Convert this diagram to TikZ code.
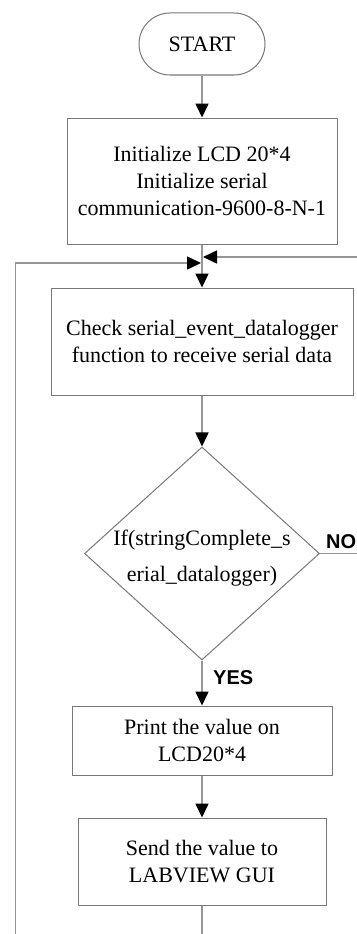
\documentclass[tikz,border=0pt]{standalone}
\usepackage{fontspec}
\setmainfont{Liberation Serif}
\newfontfamily\tagfont{Liberation Sans}
\usetikzlibrary{shapes.geometric,arrows.meta}
\definecolor{boxgray}{RGB}{120,120,120}
\definecolor{linegray}{RGB}{150,150,150}
\tikzset{
  process/.style={draw=boxgray, line width=1pt, align=center, inner sep=0pt},
  flow/.style={draw=linegray, line width=1.6pt},
  arr/.style={flow, -{Triangle[length=14pt,width=13pt,color=black]}},
  tag/.style={font=\tagfont\bfseries\fontsize{20}{24}\selectfont, inner sep=0pt}
}
\begin{document}
\begin{tikzpicture}[x=1pt,y=-1pt,font=\fontsize{22}{27}\selectfont]
\useasboundingbox (0,0) rectangle (356,934);

\node[process, rounded corners=31pt, minimum width=126pt, minimum height=62pt] (start) at (202,44) {START};
\node[process, minimum width=270pt, minimum height=126pt] (init) at (202,181)
  {Initialize LCD 20*4\\Initialize serial\\communication-9600-8-N-1};
\node[process, minimum width=302pt, minimum height=107pt] (check) at (202,341.5)
  {Check serial\_event\_datalogger\\function to receive serial data};
\node[process, diamond, minimum width=235pt, minimum height=213pt] (cond) at (202,553.5) {};
\node[align=center, inner sep=0pt] (condtext) at (202,558.5)
  {If(stringComplete\_s\\[9pt]erial\_datalogger)};
\node[process, minimum width=260pt, minimum height=69pt] (print) at (202,740.5)
  {Print the value on\\LCD20*4};
\node[process, minimum width=248pt, minimum height=87pt] (send) at (202,861.5)
  {Send the value to\\LABVIEW GUI};

\coordinate (joinL) at (201,263);
\coordinate (joinR) at (203,257);
\coordinate (backIn) at (360,257);
\coordinate (noEnd) at (360,553.5);
\coordinate (loopBot) at (15.5,940);
\coordinate (sendOut) at (202,940);

\draw[arr] (start) -- (init);
\draw[arr] (init) -- (check);
\draw[arr] (loopBot) |- (joinL);
\draw[arr] (backIn) -- (joinR);
\draw[arr] (check) -- (cond);
\draw[flow] (cond.east) -- (noEnd);
\draw[arr] (cond) -- (print);
\draw[arr] (print) -- (send);
\draw[flow] (send) -- (sendOut);

\node[tag, anchor=base west] (no) at (326,548) {NO};
\node[tag, anchor=base west] (yes) at (213,684) {YES};
\end{tikzpicture}
\end{document}
